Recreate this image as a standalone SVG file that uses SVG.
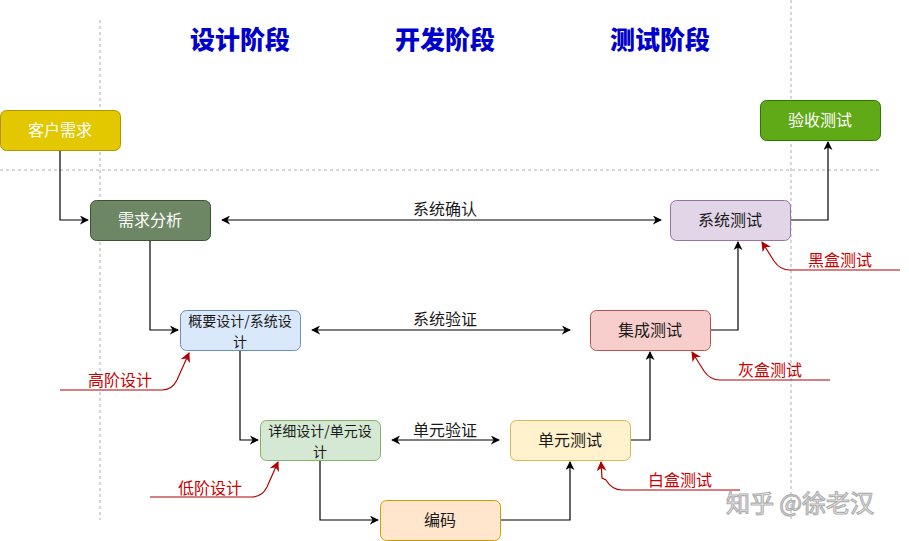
<svg xmlns="http://www.w3.org/2000/svg" width="909" height="541" viewBox="0 0 909 541">
<defs>
<marker id="ab" viewBox="0 0 10 10" refX="9" refY="5" markerWidth="9" markerHeight="9" markerUnits="userSpaceOnUse" orient="auto-start-reverse"><path d="M0,0 L10,5 L0,10 L3,5 z" fill="#000"/></marker>
<marker id="ar" viewBox="0 0 10 10" refX="9" refY="5" markerWidth="10" markerHeight="10" markerUnits="userSpaceOnUse" orient="auto"><path d="M0,0 L10,5 L0,10 L3,5 z" fill="#B20000"/></marker>
<style>
.n{stroke-width:1}
.t{font-family:"Noto Sans CJK SC","Liberation Sans",sans-serif;font-size:16px;text-anchor:middle;fill:#1a1a1a}
.s{font-size:14px}
.w{fill:#fff}
.h{font-family:"Noto Sans CJK SC","Liberation Sans",sans-serif;font-size:25px;font-weight:900;fill:#0000CC;text-anchor:middle}
.r{font-family:"Noto Sans CJK SC","Liberation Sans",sans-serif;font-size:16px;fill:#CC0000;text-anchor:middle}
.c{fill:none;stroke:#000;stroke-width:1.2}
.rc{fill:none;stroke:#B20000;stroke-width:1.2}
.d{fill:none;stroke:#999;stroke-width:0.8;stroke-dasharray:3 3}
</style>
</defs>
<rect width="909" height="541" fill="#fff"/>
<g id="guides">
<line class="d" x1="100" y1="20" x2="100" y2="520"/>
<line class="d" x1="791" y1="0" x2="791" y2="520"/>
<line class="d" x1="0" y1="170" x2="880" y2="170"/>
</g>
<g id="headers">
<text class="h" x="240" y="49">设计阶段</text>
<text class="h" x="445" y="49">开发阶段</text>
<text class="h" x="660" y="49">测试阶段</text>
</g>
<g id="connectors">
<path class="c" d="M60,150 V220 H88" marker-end="url(#ab)"/>
<path class="c" d="M150,240 V330 H178" marker-end="url(#ab)"/>
<path class="c" d="M240,350 V440 H258" marker-end="url(#ab)"/>
<path class="c" d="M320,460 V520 H378" marker-end="url(#ab)"/>
<path class="c" d="M500,520 H570 V462" marker-end="url(#ab)"/>
<path class="c" d="M630,440 H650 V352" marker-end="url(#ab)"/>
<path class="c" d="M710,330 H738 V242" marker-end="url(#ab)"/>
<path class="c" d="M790,220 H828 V142" marker-end="url(#ab)"/>
<path class="c" d="M222,220 H661" marker-start="url(#ab)" marker-end="url(#ab)"/>
<path class="c" d="M312,330 H570" marker-start="url(#ab)" marker-end="url(#ab)"/>
<path class="c" d="M392,440 H499" marker-start="url(#ab)" marker-end="url(#ab)"/>
<text class="t" x="445" y="215">系统确认</text>
<text class="t" x="445" y="325">系统验证</text>
<text class="t" x="445" y="436">单元验证</text>
</g>
<g id="annotations">
<path class="rc" d="M60,390 H162 Q172,390 177,380 L189,353" marker-end="url(#ar)"/>
<text class="r" x="120" y="386">高阶设计</text>
<path class="rc" d="M150,497 H252 Q262,497 267,487 L278,462" marker-end="url(#ar)"/>
<text class="r" x="210" y="494">低阶设计</text>
<path class="rc" d="M740,490 H622 Q612,490 606,480 L602,478 L601,462" marker-end="url(#ar)"/>
<text class="r" x="680" y="486">白盒测试</text>
<path class="rc" d="M830,380 H720 Q710,380 704,371 L692,352" marker-end="url(#ar)"/>
<text class="r" x="770" y="376">灰盒测试</text>
<path class="rc" d="M900,270 H790 Q780,270 774,261 L762,242" marker-end="url(#ar)"/>
<text class="r" x="840" y="266">黑盒测试</text>
</g>
<g id="customer">
<rect class="n" x="0.5" y="110.5" width="120" height="40" rx="6" fill="#e3c800" stroke="#B09500"/>
<text class="t w" x="60" y="136">客户需求</text>
</g>
<g id="acceptance">
<rect class="n" x="760.5" y="100.5" width="120" height="40" rx="6" fill="#60a917" stroke="#2D7600"/>
<text class="t w" x="820" y="126">验收测试</text>
</g>
<g id="req-analysis">
<rect class="n" x="90.5" y="200.5" width="120" height="40" rx="6" fill="#6d8764" stroke="#3A5431"/>
<text class="t w" x="150" y="226">需求分析</text>
</g>
<g id="system-test">
<rect class="n" x="670.5" y="200.5" width="120" height="40" rx="6" fill="#e1d5e7" stroke="#9673a6"/>
<text class="t" x="730" y="226">系统测试</text>
</g>
<g id="overview-design">
<rect class="n" x="180.5" y="310.5" width="120" height="40" rx="6" fill="#dae8fc" stroke="#6c8ebf"/>
<text class="t s" x="240" y="326">概要设计/系统设</text>
<text class="t s" x="240" y="346.5">计</text>
</g>
<g id="integration-test">
<rect class="n" x="590.5" y="310.5" width="120" height="40" rx="6" fill="#f8cecc" stroke="#b85450"/>
<text class="t" x="650" y="336">集成测试</text>
</g>
<g id="detail-design">
<rect class="n" x="260.5" y="420.5" width="120" height="40" rx="6" fill="#d5e8d4" stroke="#82b366"/>
<text class="t s" x="320" y="436">详细设计/单元设</text>
<text class="t s" x="320" y="456.5">计</text>
</g>
<g id="unit-test">
<rect class="n" x="510.5" y="420.5" width="120" height="40" rx="6" fill="#fff2cc" stroke="#d6b656"/>
<text class="t" x="570" y="446">单元测试</text>
</g>
<g id="coding">
<rect class="n" x="380.5" y="500.5" width="120" height="40" rx="6" fill="#ffe6cc" stroke="#d79b00"/>
<text class="t" x="440" y="526">编码</text>
</g>
<g id="watermark">
<text x="800" y="512" font-family="'Noto Sans CJK SC',sans-serif" font-size="24" text-anchor="middle" fill="#ffffff" stroke="#b0b0b0" stroke-width="1.2">知乎 @徐老汉</text>
</g>
</svg>
